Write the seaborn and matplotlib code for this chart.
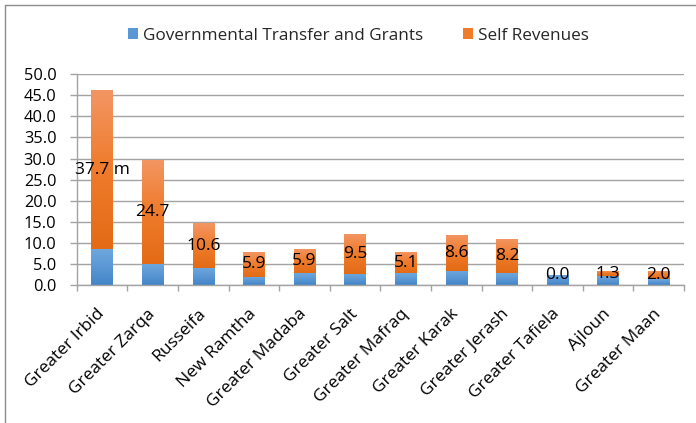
import numpy as np
import pandas as pd
import matplotlib
matplotlib.use("Agg")
import matplotlib.pyplot as plt
from matplotlib.colors import LinearSegmentedColormap
from matplotlib.patches import Patch
from matplotlib.lines import Line2D
import seaborn as sns

# Municipal revenues by municipality (million)
municipalities = ["Greater Irbid", "Greater Zarqa", "Russeifa", "New Ramtha",
                  "Greater Madaba", "Greater Salt", "Greater Mafraq", "Greater Karak",
                  "Greater Jerash", "Greater Tafiela", "Ajloun", "Greater Maan"]
gov_transfers = [8.5, 5.0, 4.1, 2.0, 2.8, 2.7, 2.8, 3.4, 2.8, 2.4, 2.1, 1.4]
self_revenues = [37.7, 24.7, 10.6, 5.9, 5.9, 9.5, 5.1, 8.6, 8.2, 0.0, 1.3, 2.0]
y_ticks = [0, 5, 10, 15, 20, 25, 30, 35, 40, 45, 50]

df = pd.DataFrame({"municipality": municipalities,
                   "gov": gov_transfers,
                   "self": self_revenues})
df["total"] = df["gov"] + df["self"]

sns.set_theme(style="white")
plt.rcParams["font.family"] = ["Open Sans", "DejaVu Sans"]

BLUE = ["#4385c8", "#5b97d4", "#6ea8de"]      # bottom -> top
ORANGE = ["#e36b16", "#ef7b2b", "#f39664"]    # bottom -> top
GRID = "#a3a3a3"

fig = plt.figure(figsize=(6.96, 4.23), dpi=100)
ax = fig.add_axes([0.1102, 0.3255, 0.8726, 0.4995])

sns.barplot(data=df, x="municipality", y="total", color=ORANGE[1], width=0.42,
            saturation=1, ax=ax, zorder=2, linewidth=0)
sns.barplot(data=df, x="municipality", y="gov", color=BLUE[1], width=0.42,
            saturation=1, ax=ax, zorder=2, linewidth=0)

n = len(df)
orange_bars = ax.patches[:n]
blue_bars = ax.patches[n:2 * n]

grad = np.linspace(0, 1, 256).reshape(-1, 1)
cmap_o = LinearSegmentedColormap.from_list("o", ORANGE)
cmap_b = LinearSegmentedColormap.from_list("b", BLUE)


def shade(patch, lo, hi, cmap, z):
    if hi - lo <= 0:
        return
    x0 = patch.get_x()
    w = patch.get_width()
    im = ax.imshow(grad, extent=[x0, x0 + w, lo, hi], origin="lower",
                   cmap=cmap, aspect="auto", zorder=z, interpolation="bilinear")
    im.set_clip_path(patch)


for i, (bo, bb) in enumerate(zip(orange_bars, blue_bars)):
    shade(bo, df["gov"][i], df["total"][i], cmap_o, 2.1)
    shade(bb, 0, df["gov"][i], cmap_b, 2.3)
    bb.set_zorder(2.2)

# Value labels centred on the self-revenue segment
for i in range(n):
    txt = f"{df['self'][i]:.1f}"
    if i == 0:
        txt += " m"
    ax.text(i, df["gov"][i] + df["self"][i] / 2, txt, ha="center", va="center",
            fontsize=12.5, color="black", zorder=5)

ax.set_xlim(-0.5, n - 0.5)
ax.set_ylim(0, 50)
ax.set_yticks(y_ticks)
ax.set_yticklabels([f"{v:.1f}" for v in y_ticks], fontsize=11.8)
ax.yaxis.grid(True, color=GRID, linewidth=1.0)
ax.set_axisbelow(True)
ax.set_xlabel("")
ax.set_ylabel("")

for s in ["top", "right"]:
    ax.spines[s].set_visible(False)
for s in ["left", "bottom"]:
    ax.spines[s].set_color(GRID)
    ax.spines[s].set_linewidth(1.0)

ax.tick_params(axis="y", which="major", length=5, width=1.0, color=GRID,
               pad=9.5, left=True, labelcolor="black")
ax.set_xticks(range(n))
ax.set_xticklabels(municipalities, rotation=45, ha="right", va="center",
                   rotation_mode="anchor", fontsize=12.5)
ax.tick_params(axis="x", which="major", length=0, pad=19, labelcolor="black")
ax.set_xticks(np.arange(-0.5, n, 1.0), minor=True)
ax.tick_params(axis="x", which="minor", length=4, width=1.0, color=GRID,
               bottom=True)

handles = [Patch(facecolor=BLUE[1], edgecolor="none"),
           Patch(facecolor=ORANGE[1], edgecolor="none")]
fig.legend(handles, ["Governmental Transfer and Grants", "Self Revenues"],
           loc="center", bbox_to_anchor=(0.515, 0.916), ncol=2, frameon=False,
           fontsize=12.3, handlelength=0.62, handleheight=0.62,
           handletextpad=0.3, columnspacing=2.3, borderpad=0)

# Chart area frame (top and left edges)
fig.add_artist(Line2D([4.5 / 696, 4.5 / 696], [0, 1 - 5 / 423],
                      transform=fig.transFigure, color="#8c8c8c", linewidth=1.0))
fig.add_artist(Line2D([4.5 / 696, 1], [1 - 5 / 423, 1 - 5 / 423],
                      transform=fig.transFigure, color="#8c8c8c", linewidth=1.0))

fig.savefig("out.png", dpi=100, facecolor="white")
